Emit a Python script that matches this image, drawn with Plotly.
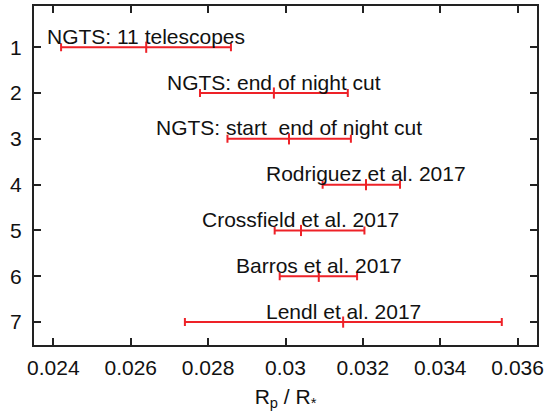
import plotly.graph_objects as go

labels = ["NGTS: 11 telescopes", "NGTS: end of night cut", "NGTS: start  end of night cut",
          "Rodriguez et al. 2017", "Crossfield et al. 2017", "Barros et al. 2017", "Lendl et al. 2017"]
rows = [1, 2, 3, 4, 5, 6, 7]
center = [0.02640, 0.02970, 0.03009, 0.03208, 0.03040, 0.03086, 0.03149]
low = [0.02420, 0.02779, 0.02850, 0.03096, 0.02972, 0.02985, 0.02740]
high = [0.02859, 0.03161, 0.03169, 0.03296, 0.03204, 0.03185, 0.03559]
xticks = [0.024, 0.026, 0.028, 0.030, 0.032, 0.034, 0.036]
xticktext = ["0.024", "0.026", "0.028", "0.03", "0.032", "0.034", "0.036"]

RED = "#ee2228"
FONT = "Liberation Sans, Arial, sans-serif"
FS = 21

fig = go.Figure()
fig.add_trace(go.Scatter(
    x=center, y=rows, mode="markers",
    marker=dict(symbol="line-ns", size=8, line=dict(width=2, color=RED), color=RED),
    error_x=dict(type="data", symmetric=False,
                 array=[h - c for h, c in zip(high, center)],
                 arrayminus=[c - l for c, l in zip(center, low)],
                 color=RED, thickness=2, width=4),
    showlegend=False, hoverinfo="skip"))

for lab, c, r in zip(labels, center, rows):
    fig.add_annotation(x=c, y=r, text=lab, showarrow=False, xanchor="center",
                       yanchor="middle", yshift=11, font=dict(size=FS, color="#111", family=FONT))

fig.update_layout(
    template="none",
    width=549, height=416, plot_bgcolor="white", paper_bgcolor="white",
    margin=dict(l=34, r=12, t=6, b=71),
    font=dict(family=FONT, size=FS, color="#111"),
)
fig.update_xaxes(range=[0.0235, 0.0365], tickvals=xticks, ticktext=xticktext, automargin=False,
                 ticks="inside", ticklen=7, tickwidth=1.5, tickcolor="#222",
                 showline=True, linecolor="#222", linewidth=2, mirror="ticks",
                 showgrid=False, zeroline=False, ticklabelstandoff=3,
                 title=dict(text="R<sub>p</sub> / R<sub>*</sub>", standoff=11, font=dict(size=FS)))
fig.update_yaxes(range=[7.5, 0.1], tickvals=rows, ticktext=[str(r) for r in rows], automargin=False,
                 ticks="inside", ticklen=7, tickwidth=1.5, tickcolor="#222",
                 showline=True, linecolor="#222", linewidth=2, mirror="ticks",
                 showgrid=False, zeroline=False, ticklabelstandoff=6)

fig.write_html("out.html", config={"displayModeBar": False},
               post_script="document.body.style.margin='0';")
